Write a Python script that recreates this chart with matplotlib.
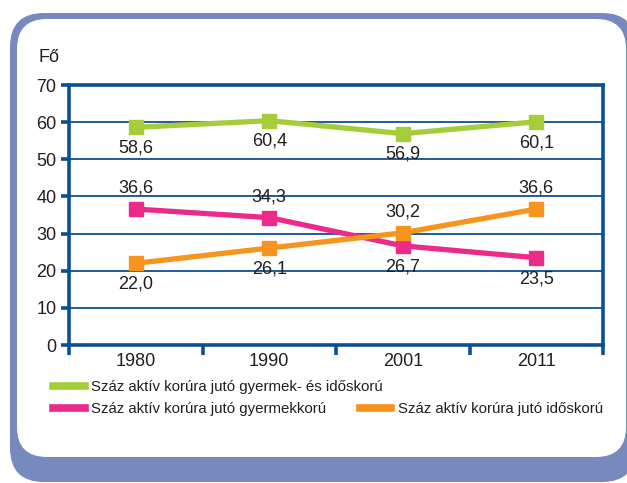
import matplotlib
matplotlib.use("Agg")
import matplotlib.pyplot as plt
from matplotlib.patches import FancyBboxPatch
from matplotlib.lines import Line2D

plt.rcParams['font.family'] = ['Liberation Sans Narrow', 'Liberation Sans', 'DejaVu Sans']

years = ["1980", "1990", "2001", "2011"]
total = [58.6, 60.4, 56.9, 60.1]
children = [36.6, 34.3, 26.7, 23.5]
elderly = [22.0, 26.1, 30.2, 36.6]

lbl_total = "Száz aktív korúra jutó gyermek- és időskorú"
lbl_children = "Száz aktív korúra jutó gyermekkorú"
lbl_elderly = "Száz aktív korúra jutó időskorú"

# label placement: +1 above the point, -1 below
pos_total = [-1, -1, -1, -1]
pos_children = [1, 1, -1, -1]
pos_elderly = [-1, -1, 1, 1]

c_green = "#a4cd39"
c_pink = "#ec2a8a"
c_orange = "#f7941d"
c_axis = "#0d4f93"
c_frame = "#778abe"
c_text = "#231f20"

fig = plt.figure(figsize=(6.27, 4.83), dpi=100)

# background frame
bg = fig.add_axes([0, 0, 1, 1])
bg.set_xlim(0, 627)
bg.set_ylim(483, 0)
bg.axis("off")
bg.add_patch(FancyBboxPatch((10, 13), 626, 469, boxstyle="round,pad=0,rounding_size=34",
                            fc=c_frame, ec="none"))
bg.add_patch(FancyBboxPatch((17, 19), 609, 438, boxstyle="round,pad=0,rounding_size=30",
                            fc="white", ec="none"))

ax = fig.add_axes([69 / 627, 1 - 345 / 483, (603 - 69) / 627, (345 - 85) / 483])
ax.set_facecolor("none")
x = range(len(years))

for vals, col, pos in [(total, c_green, pos_total),
                       (children, c_pink, pos_children),
                       (elderly, c_orange, pos_elderly)]:
    ax.plot(x, vals, color=col, lw=3.8, marker="s", ms=10, solid_joinstyle="miter")
    for xi, v, p in zip(x, vals, pos):
        ax.annotate(f"{v:.1f}".replace(".", ","), (xi, v), xytext=(0, 15 * p),
                    textcoords="offset points", ha="center", va="center",
                    fontsize=13, color=c_text)

ax.set_xlim(-0.5, 3.5)
ax.set_ylim(0, 70)
ax.set_yticks(range(0, 71, 10))
ax.grid(axis="y", color=c_axis, lw=1.3)
ax.set_axisbelow(True)
for s in ax.spines.values():
    s.set_color(c_axis)
    s.set_linewidth(2.6)

ax.set_xticks([-0.5, 0.5, 1.5, 2.5, 3.5])
ax.set_xticklabels([])
ax.set_xticks(list(x), minor=True)
ax.set_xticklabels(years, minor=True)
ax.tick_params(axis="x", which="major", length=7, width=2.6, color=c_axis, direction="out")
ax.tick_params(axis="x", which="minor", length=0, pad=6, labelsize=13, labelcolor=c_text)
ax.tick_params(axis="y", length=6, width=2.6, color=c_axis, labelsize=13,
               labelcolor=c_text, pad=3)

fig.text(38 / 627, 1 - 57 / 483, "Fő", fontsize=13, color=c_text, ha="left", va="center")

# legend
h_total = Line2D([], [], color=c_green, lw=5.5)
h_children = Line2D([], [], color=c_pink, lw=5.5)
h_elderly = Line2D([], [], color=c_orange, lw=5.5)
leg_kw = dict(frameon=False, fontsize=10.8, handlelength=2.1, handletextpad=0.45,
              borderaxespad=0, labelcolor=c_text)
fig.legend([h_total, h_children], [lbl_total, lbl_children],
           loc="upper left", bbox_to_anchor=(47 / 627, 1 - 374 / 483),
           labelspacing=0.55, **leg_kw)
fig.legend([h_elderly], [lbl_elderly],
           loc="upper left", bbox_to_anchor=(354 / 627, 1 - 396 / 483), **leg_kw)

fig.savefig("out.png", dpi=100)
